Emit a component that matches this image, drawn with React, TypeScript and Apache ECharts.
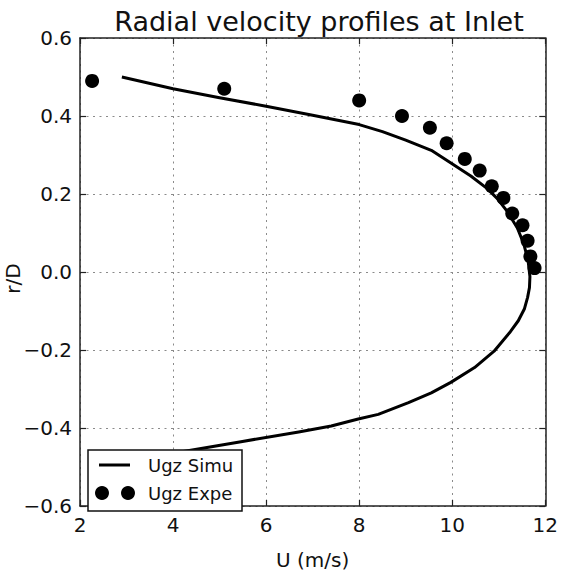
import React, { useEffect, useRef } from "react";
import * as echarts from "echarts";

const titleText = "Radial velocity profiles at Inlet";
const xName = "U (m/s)";
const yName = "r/D";

// Simulation profile (U, r/D)
const simuU = [2.9, 4.0, 5.0, 6.0, 7.0, 8.0, 8.5, 9.0, 9.55, 9.98, 10.4, 10.76, 10.97, 11.19, 11.4, 11.54, 11.63, 11.67, 11.66, 11.62, 11.55, 11.42, 11.25, 10.9, 10.48, 9.97, 9.55, 9.06, 8.41, 7.98, 7.4, 6.7, 5.46, 4.0, 2.9];
const simuR = [0.5, 0.47, 0.447, 0.425, 0.402, 0.378, 0.36, 0.338, 0.312, 0.279, 0.246, 0.213, 0.188, 0.154, 0.113, 0.071, 0.03, -0.012, -0.04, -0.065, -0.095, -0.125, -0.153, -0.203, -0.245, -0.283, -0.31, -0.335, -0.365, -0.377, -0.395, -0.41, -0.435, -0.465, -0.5];

// Experimental points (U, r/D)
const expeU = [2.26, 5.1, 8.0, 8.92, 9.52, 9.88, 10.27, 10.59, 10.85, 11.1, 11.29, 11.51, 11.62, 11.68, 11.77];
const expeR = [0.49, 0.47, 0.44, 0.4, 0.37, 0.33, 0.29, 0.26, 0.22, 0.19, 0.15, 0.12, 0.08, 0.04, 0.01];

const legendNames = ["Ugz Simu", "Ugz Expe"];

const FONT = "DejaVu Sans";

export default function App() {
  const ref = useRef<HTMLDivElement>(null);
  useEffect(() => {
    if (!ref.current) return;
    const chart = echarts.init(ref.current, undefined, { renderer: "svg" });
    const gridLeft = 80, gridTop = 38, gridW = 468, gridH = 481;
    const axisLineStyle = { color: "#222", width: 1.5 };
    const tick = { show: true, inside: true, length: 6, lineStyle: { color: "#222", width: 1.2 } };
    const splitLine = { show: true, lineStyle: { color: "#8a8a8a", width: 1, type: [2, 4.5] as any } };
    const yFmt = (v: number) => {
      if (Math.abs(v) < 1e-9) return "0.0";
      return (v < 0 ? "\u2212" : "") + Math.abs(v).toFixed(1);
    };
    chart.setOption({
      animation: false,
      backgroundColor: "#ffffff",
      title: {
        text: titleText,
        left: gridLeft + gridW / 2,
        textAlign: "center",
        top: 3,
        textStyle: { fontFamily: FONT, fontSize: 27, fontWeight: "normal", color: "#111" },
      },
      grid: { left: gridLeft, top: gridTop, width: gridW, height: gridH, containLabel: false },
      xAxis: [
        {
          type: "value", min: 2, max: 12, interval: 2, position: "bottom",
          name: xName, nameLocation: "middle", nameGap: 44,
          nameTextStyle: { fontFamily: FONT, fontSize: 20, color: "#111" },
          axisLine: { show: true, onZero: false, lineStyle: axisLineStyle },
          axisTick: tick,
          axisLabel: { fontFamily: FONT, fontSize: 20, color: "#111", margin: 9 },
          splitLine,
        },
        {
          type: "value", min: 2, max: 12, interval: 2, position: "top",
          axisLine: { show: true, onZero: false, lineStyle: axisLineStyle },
          axisTick: tick,
          axisLabel: { show: false },
          splitLine: { show: false },
        },
      ],
      yAxis: [
        {
          type: "value", min: -0.6, max: 0.6, interval: 0.2, position: "left",
          axisLine: { show: true, onZero: false, lineStyle: axisLineStyle },
          axisTick: tick,
          axisLabel: { fontFamily: FONT, fontSize: 20, color: "#111", margin: 8, formatter: yFmt },
          splitLine,
        },
        {
          type: "value", min: -0.6, max: 0.6, interval: 0.2, position: "right",
          axisLine: { show: true, onZero: false, lineStyle: axisLineStyle },
          axisTick: tick,
          axisLabel: { show: false },
          splitLine: { show: false },
        },
      ],
      series: [
        {
          name: legendNames[0],
          type: "line",
          xAxisIndex: 0, yAxisIndex: 0,
          data: simuU.map((u, i) => [u, simuR[i]]),
          symbol: "none",
          smooth: false,
          lineStyle: { color: "#000", width: 3, join: "round" },
          z: 3,
        },
        {
          name: legendNames[1],
          type: "scatter",
          xAxisIndex: 0, yAxisIndex: 0,
          data: expeU.map((u, i) => [u, expeR[i]]),
          symbol: "circle",
          symbolSize: 14,
          itemStyle: { color: "#000", opacity: 1 },
          z: 4,
        },
      ],
      graphic: [
        {
          type: "text",
          x: 13, y: gridTop + gridH / 2, rotation: Math.PI / 2,
          style: { text: yName, fontFamily: FONT, fontSize: 20, fill: "#111", textAlign: "center", textVerticalAlign: "middle" },
        },
        { type: "rect", z: 100, shape: { x: 88, y: 450, width: 154, height: 61 }, style: { fill: "#fff", stroke: "#111", lineWidth: 1.5 } },
        { type: "line", z: 101, shape: { x1: 99, y1: 465, x2: 130, y2: 465 }, style: { stroke: "#000", lineWidth: 3 } },
        { type: "text", z: 101, x: 148, y: 465, style: { text: legendNames[0], fontFamily: FONT, fontSize: 18, fill: "#111", textVerticalAlign: "middle" } },
        { type: "circle", z: 101, shape: { cx: 102, cy: 493, r: 7 }, style: { fill: "#000" } },
        { type: "circle", z: 101, shape: { cx: 128, cy: 493, r: 7 }, style: { fill: "#000" } },
        { type: "text", z: 101, x: 148, y: 493, style: { text: legendNames[1], fontFamily: FONT, fontSize: 18, fill: "#111", textVerticalAlign: "middle" } },
      ],
    });
    return () => chart.dispose();
  }, []);
  return <div ref={ref} style={{ position: "fixed", left: 0, top: 0, width: 561, height: 575 }} />;
}
